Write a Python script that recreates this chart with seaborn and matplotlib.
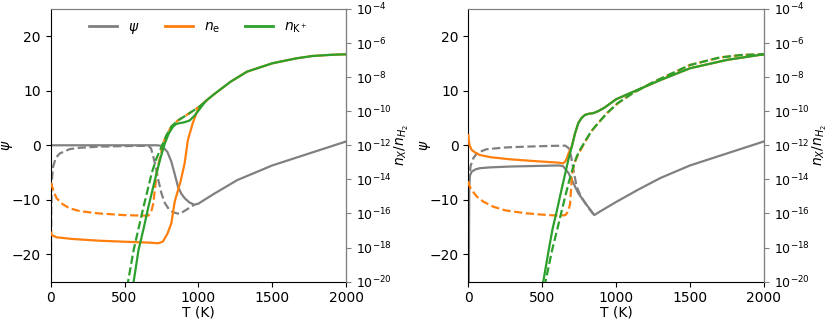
import numpy as np
import matplotlib
matplotlib.use("Agg")
import matplotlib.pyplot as plt
import seaborn as sns

plt.rcParams["font.size"] = 10

# -------------------------
# DATA
# -------------------------
# left panel : psi (left axis)
T_psi_a = [0, 100, 300, 600, 720, 750, 760, 790, 817, 840, 862, 885, 907, 940, 973,
           1000, 1100, 1262, 1500, 1750, 2000]
psi_a = [0, 0, 0, 0, 0, -0.1, -0.3, -1.2, -3.0, -5.3, -7.6, -8.9, -9.7, -10.5, -10.9,
         -10.7, -9.0, -6.4, -3.7, -1.5, 0.7]

T_psi_a_d = [1, 2, 4, 8, 17, 35, 62, 129, 200, 329, 500, 662, 680, 695, 712, 729, 750,
             773, 800, 830, 873, 920, 973]
psi_a_d = [-40, -25, -12, -6.5, -3.9, -2.3, -1.5, -0.7, -0.45, -0.25, -0.15, -0.1, -0.6,
           -2.1, -4.0, -6.4, -8.8, -10.6, -11.7, -12.3, -12.6, -11.8, -10.9]

# left panel : log10 abundances (right axis)
T_ne_a = [0, 7, 40, 150, 329, 500, 662, 729, 760, 790, 817, 840, 860, 880, 907, 929,
          962, 995, 1030]
ne_a = [-17.1, -17.26, -17.4, -17.5, -17.6, -17.66, -17.71, -17.75, -17.65, -17.2, -16.58,
        -15.3, -14.7, -14.1, -13.06, -11.69, -10.7, -9.93, -9.55]

T_ne_a_d = [0, 7, 20, 40, 80, 129, 200, 329, 500, 640, 662, 684, 695, 707, 720, 735, 750]
ne_a_d = [-14.2, -14.33, -14.7, -15.1, -15.45, -15.7, -15.87, -16.0, -16.1, -16.13, -16.12,
          -15.8, -15.4, -14.5, -13.5, -12.9, -12.4]

T_K_a = [540, 562, 595, 629, 662, 690, 717, 745, 773, 800, 829, 850, 873, 905, 940, 970,
         995, 1050, 1107, 1218, 1329, 1500, 1662, 1773, 1900, 2000]
K_a = [-20.8, -20.0, -18.14, -16.9, -15.6, -14.6, -13.64, -12.7, -11.88, -11.3, -10.9,
       -10.75, -10.7, -10.65, -10.55, -10.3, -10.03, -9.4, -9.0, -8.27, -7.68, -7.19,
       -6.9, -6.76, -6.69, -6.66]

T_K_a_d = [505, 524, 562, 600, 629, 660, 684, 715, 751, 785, 817, 860, 907, 960, 1007, 1060]
K_a_d = [-21, -20, -18.14, -16.7, -15.6, -14.5, -13.64, -12.8, -12.08, -11.4, -10.9,
         -10.55, -10.3, -10.0, -9.73, -9.35]

# right panel : psi
T_psi_b = [0.5, 3, 6, 10, 22, 50, 78, 150, 278, 450, 611, 640, 678, 710, 744, 800, 852,
           900, 1000, 1145, 1300, 1500, 1750, 2000]
psi_b = [-40, -25, -7.5, -5.6, -4.84, -4.4, -4.2, -4.05, -3.9, -3.8, -3.7, -3.8, -5.1,
         -6.9, -8.8, -10.9, -12.8, -12.0, -10.4, -8.2, -6.0, -3.7, -1.5, 0.7]

T_psi_b_d = [3, 8, 15, 33, 60, 122, 250, 389, 550, 656, 678, 695, 711, 733, 760, 800, 845]
psi_b_d = [-9, -5.5, -3.8, -2.4, -1.4, -0.73, -0.4, -0.25, -0.12, -0.07, -0.5, -2.0, -4.5,
           -7.6, -9.3, -11.0, -12.6]

# right panel : log10 abundances
T_ne_b = [0, 3, 8, 22, 50, 78, 150, 278, 450, 611, 640, 656, 667, 678]
ne_b = [-11.4, -11.7, -12.0, -12.27, -12.45, -12.57, -12.7, -12.82, -12.93, -13.02, -13.06,
        -12.95, -12.75, -12.47]

T_ne_b_d = [0, 5, 20, 56, 100, 167, 250, 389, 500, 611, 656, 667, 680, 689, 700, 711, 722,
            745, 767, 789, 811]
ne_b_d = [-14.1, -14.33, -14.6, -15.0, -15.3, -15.6, -15.82, -15.99, -16.07, -16.13, -16.1,
          -15.99, -15.75, -15.4, -13.84, -13.3, -12.96, -12.5, -12.17, -11.8, -11.5]

T_K_b = [490, 507, 544, 570, 600, 628, 656, 678, 700, 722, 744, 766, 789, 815, 844, 878,
         920, 1000, 1145, 1300, 1500, 1750, 2000]
K_b = [-20.8, -20.0, -18.14, -16.9, -15.8, -14.7, -13.64, -12.8, -12.08, -11.3, -10.7,
       -10.4, -10.22, -10.15, -10.12, -10.0, -9.8, -9.3, -8.75, -8.17, -7.48, -6.99, -6.66]

T_K_b_d = [505, 522, 567, 600, 622, 650, 678, 705, 733, 760, 789, 830, 878, 940, 1011,
           1111, 1250, 1500, 1700, 1850, 2000]
K_b_d = [-21, -20, -18.14, -17.0, -16.19, -15.2, -14.23, -13.4, -12.67, -12.2, -11.79,
         -11.2, -10.7, -10.1, -9.53, -8.95, -8.3, -7.29, -6.85, -6.7, -6.66]

xticks = [0, 500, 1000, 1500, 2000]
psi_ticks = [-20, -10, 0, 10, 20]
log_ticks = [1e-20, 1e-18, 1e-16, 1e-14, 1e-12, 1e-10, 1e-8, 1e-6, 1e-4]

c_psi = "gray"
c_ne = "#ff7f0e"
c_K = "#2ca02c"


def follow(T1, y1, T2, y2):
    # once a curve merges into another one it runs along it
    T = list(T1) + [t for t in T2 if t > T1[-1]]
    y = list(y1) + [v for t, v in zip(T2, y2) if t > T1[-1]]
    return T, y


def panel(ax, psi, psi_d, ne, ne_d, K, K_d):
    sns.lineplot(x=psi[0], y=psi[1], ax=ax, color=c_psi, lw=1.6, sort=False)
    sns.lineplot(x=psi_d[0], y=psi_d[1], ax=ax, color=c_psi, lw=1.6, ls="--", sort=False)
    ax.set_xlim(0, 2000)
    ax.set_ylim(-25, 25)
    ax.set_xticks(xticks)
    ax.set_yticks(psi_ticks)
    ax.set_xlabel("T (K)", labelpad=0)
    ax.set_ylabel(r"$\psi$")
    ax.yaxis.set_label_coords(-0.12, 0.5)
    ax.spines["top"].set_color(c_psi)

    ax2 = ax.twinx()
    ne_T, ne_y = follow(ne[0], ne[1], K[0], K[1])
    ned_T, ned_y = follow(ne_d[0], ne_d[1], K_d[0], K_d[1])
    sns.lineplot(x=ne_T, y=10.0 ** np.array(ne_y), ax=ax2, color=c_ne, lw=1.6, sort=False)
    sns.lineplot(x=ned_T, y=10.0 ** np.array(ned_y), ax=ax2, color=c_ne, lw=1.6, ls="--",
                 sort=False)
    sns.lineplot(x=K[0], y=10.0 ** np.array(K[1]), ax=ax2, color=c_K, lw=1.6, sort=False)
    sns.lineplot(x=K_d[0], y=10.0 ** np.array(K_d[1]), ax=ax2, color=c_K, lw=1.6, ls="--",
                 sort=False)
    ax2.set_yscale("log")
    ax2.set_ylim(1e-20, 1e-4)
    ax2.set_yticks(log_ticks)
    ax2.minorticks_off()
    ax2.set_xlim(0, 2000)
    ax2.set_ylabel(r"$n_X/n_{H_2}$")
    ax2.yaxis.set_label_coords(1.158, 0.5)
    ax2.spines["right"].set_color(c_psi)
    ax2.spines["top"].set_color(c_psi)
    ax2.spines["left"].set_visible(False)
    ax2.spines["bottom"].set_visible(False)
    ax2.tick_params(axis="y", color=c_psi, labelcolor="black", labelsize=9)
    return ax2


fig = plt.figure(figsize=(8.3, 3.2), dpi=100)
axA = fig.add_axes([0.061, 0.12, 0.356, 0.852])
axB = fig.add_axes([0.5643, 0.12, 0.356, 0.852])

axA2 = panel(axA, (T_psi_a, psi_a), (T_psi_a_d, psi_a_d), (T_ne_a, ne_a),
             (T_ne_a_d, ne_a_d), (T_K_a, K_a), (T_K_a_d, K_a_d))
axB2 = panel(axB, (T_psi_b, psi_b), (T_psi_b_d, psi_b_d), (T_ne_b, ne_b),
             (T_ne_b_d, ne_b_d), (T_K_b, K_b), (T_K_b_d, K_b_d))

handles = [plt.Line2D([], [], color=c_psi, lw=2),
           plt.Line2D([], [], color=c_ne, lw=2),
           plt.Line2D([], [], color=c_K, lw=2)]
axA2.legend(handles, [r"$\psi$", r"$n_{\rm e}$", r"$n_{\rm K^+}$"], loc="upper center",
            ncol=3, frameon=False, borderaxespad=0.4, columnspacing=1.8)

fig.savefig("out.png", dpi=100)
